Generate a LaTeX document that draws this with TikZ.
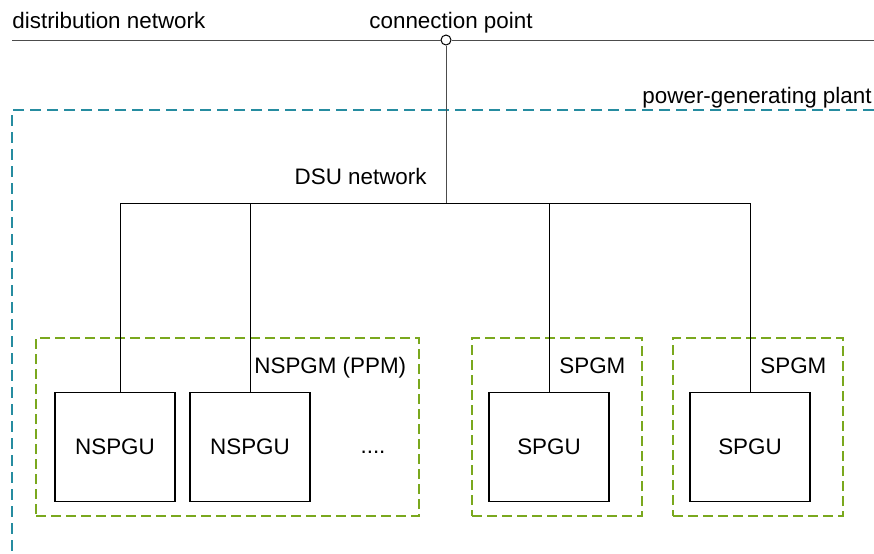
\documentclass[tikz,border=0pt]{standalone}
\usepackage{fontspec}
\setmainfont{Liberation Sans}
\usetikzlibrary{positioning,calc}
\definecolor{plantblue}{RGB}{38,140,160}
\definecolor{modgreen}{RGB}{122,168,30}
\tikzstyle{unit}=[draw,line width=0.6pt,minimum width=60pt,minimum height=54.5pt,inner sep=0pt]
\tikzstyle{module}=[draw=modgreen,line width=1pt,dash pattern=on 5pt off 2.5pt,inner sep=0pt]
\tikzstyle{lbl}=[inner sep=0pt]
\tikzstyle{wire}=[line width=0.5pt]
\tikzstyle{cpoint}=[circle,draw,fill=white,line width=0.5pt,minimum size=5pt,inner sep=0pt]

\begin{document}
\begin{tikzpicture}[x=0.5pt,y=-0.5pt,font=\fontsize{11.2}{13}\selectfont]
  \useasboundingbox (0,0) rectangle (874,553);
  % distribution network
  \coordinate (netL) at (12,40);
  \coordinate (netR) at (874,40);
  \node [cpoint] (cp) at (446,40) {};
  \draw [wire,draw=black!70] (netL) -- (cp.west);
  \draw [wire,draw=black!70] (cp.east) -- (netR);
  \node [lbl,anchor=base west] (distlbl) at (12,28) {distribution network};
  \node [lbl,anchor=base] (cplbl) at (451,28) {connection point};
%
  % power-generating plant
  \draw [plantblue,line width=1pt,dash pattern=on 5.5pt off 3pt]
     (874,110) -- (12,110) -- (12,553);
  \node [lbl,anchor=base east] (plantlbl) at (872,103) {power-generating plant};
%
  % modules
  \node [module,minimum width=191.5pt,minimum height=89pt] (m1) at (227.5,427) {};
  \node [module,minimum width=85pt,minimum height=89pt] (m2) at (557,427) {};
  \node [module,minimum width=85pt,minimum height=89pt] (m3) at (758,427) {};
  \node [lbl,anchor=base west] (m1lbl) at (254,373) {NSPGM (PPM)};
  \node [lbl,anchor=base west] (m2lbl) at (559,373) {SPGM};
  \node [lbl,anchor=base west] (m3lbl) at (760,373) {SPGM};
%
  % units
  \node [unit] (u1) at (115,447) {NSPGU};
  \node [unit] (u2) at (250,447) {NSPGU};
  \node [lbl,anchor=base] (more) at (373,453) {....};
  \node [unit] (u3) at (549,447) {SPGU};
  \node [unit] (u4) at (750,447) {SPGU};
%
  % DSU network
  \coordinate (t1) at (120,203);
  \coordinate (t2) at (250,203);
  \coordinate (t3) at (549,203);
  \coordinate (t4) at (750,203);
  \draw [wire] (t1) -- (t4);
  \draw [wire,draw=black!70] (cp.south) -- (cp |- t1);
  \draw [wire] (t1) -- (t1 |- u1.north);
  \draw [wire] (t2) -- (u2.north);
  \draw [wire] (t3) -- (u3.north);
  \draw [wire] (t4) -- (u4.north);
  \node [lbl,anchor=base east] (dsulbl) at (427,184) {DSU network};
\end{tikzpicture}
\end{document}
